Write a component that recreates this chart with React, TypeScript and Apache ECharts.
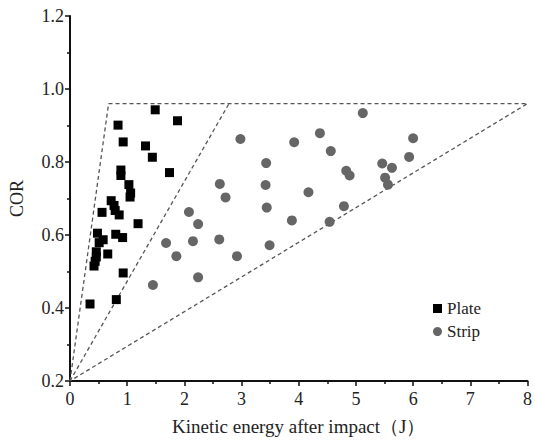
import React, { useEffect, useRef } from "react";
import * as echarts from "echarts";

const plate: [number, number][] = [
  [1.49, 0.943], [1.88, 0.913], [0.84, 0.901], [0.93, 0.855], [1.32, 0.844],
  [1.44, 0.813], [1.74, 0.771], [0.89, 0.778], [0.89, 0.763], [1.03, 0.738],
  [1.06, 0.715], [1.05, 0.704], [0.72, 0.694], [0.77, 0.681], [0.79, 0.667],
  [0.86, 0.655], [0.56, 0.662], [1.19, 0.631], [0.48, 0.605], [0.58, 0.587],
  [0.51, 0.579], [0.80, 0.602], [0.92, 0.593], [0.46, 0.554], [0.46, 0.540],
  [0.66, 0.548], [0.44, 0.528], [0.42, 0.515], [0.93, 0.496], [0.35, 0.411],
  [0.81, 0.423],
];

const strip: [number, number][] = [
  [2.98, 0.863], [3.43, 0.797], [2.62, 0.740], [3.42, 0.737], [2.72, 0.703],
  [3.44, 0.675], [2.08, 0.663], [3.88, 0.640], [2.24, 0.630], [1.68, 0.578],
  [2.15, 0.583], [2.61, 0.588], [3.49, 0.572], [1.86, 0.542], [2.92, 0.542],
  [2.24, 0.484], [1.45, 0.463], [5.12, 0.934], [4.37, 0.879], [3.92, 0.854],
  [4.56, 0.830], [4.83, 0.776], [4.89, 0.763], [5.46, 0.796], [5.63, 0.784],
  [5.51, 0.757], [5.56, 0.738], [4.17, 0.717], [4.79, 0.679], [4.54, 0.636],
  [6.00, 0.865], [5.93, 0.814],
];

// dashed boundary envelopes
const outerBoundary: [number, number][] = [
  [0, 0.2], [0.675, 0.96], [8, 0.96], [0, 0.2],
];
const innerBoundary: [number, number][] = [
  [0, 0.2], [2.78, 0.96],
];

const xName = "Kinetic energy after impact（J）";
const yName = "COR";

export default function App() {
  const ref = useRef<HTMLDivElement>(null);
  useEffect(() => {
    if (!ref.current) return;
    const chart = echarts.init(ref.current, undefined, { renderer: "svg" });
    const font = "Liberation Serif";
    const dashed = {
      color: "#555",
      width: 1.3,
      type: [4, 3] as any,
    };
    chart.setOption({
      animation: false,
      backgroundColor: "#fff",
      textStyle: { fontFamily: font },
      grid: { left: 66, right: 6, top: 16, bottom: 58, containLabel: false },
      legend: {
        data: [
          { name: "Plate", icon: "rect" },
          { name: "Strip", icon: "circle" },
        ],
        orient: "vertical",
        left: 428,
        top: 295,
        itemWidth: 9,
        itemHeight: 9,
        itemGap: 6,
        itemTextGap: 17,
        textStyle: { fontFamily: font, fontSize: 17, color: "#222" },
      },
      xAxis: {
        type: "value",
        min: 0,
        max: 8,
        interval: 1,
        name: xName,
        nameLocation: "middle",
        nameGap: 36,
        nameTextStyle: { fontFamily: font, fontSize: 19, color: "#222" },
        axisLine: { show: true, lineStyle: { color: "#111", width: 2 } },
        axisTick: { show: true, inside: false, length: 5, lineStyle: { color: "#111", width: 1.5 } },
        minorTick: { show: true, splitNumber: 2, length: 3, lineStyle: { color: "#111", width: 1.5 } },
        axisLabel: { fontFamily: font, fontSize: 18, color: "#222", margin: 9 },
        splitLine: { show: false },
      },
      yAxis: {
        type: "value",
        min: 0.2,
        max: 1.2,
        interval: 0.2,
        name: yName,
        nameLocation: "middle",
        nameGap: 44,
        nameRotate: 90,
        nameTextStyle: { fontFamily: font, fontSize: 18, color: "#222" },
        axisLine: { show: true, lineStyle: { color: "#111", width: 2 } },
        axisTick: { show: true, inside: false, length: 5, lineStyle: { color: "#111", width: 1.5 } },
        minorTick: { show: true, splitNumber: 2, length: 3, lineStyle: { color: "#111", width: 1.5 } },
        axisLabel: {
          fontFamily: font,
          fontSize: 18,
          color: "#222",
          margin: 6,
          formatter: (v: number) => v.toFixed(1),
        },
        splitLine: { show: false },
      },
      series: [
        {
          name: "outer",
          type: "line",
          data: outerBoundary,
          symbol: "none",
          silent: true,
          lineStyle: dashed,
          z: 1,
        },
        {
          name: "inner",
          type: "line",
          data: innerBoundary,
          symbol: "none",
          silent: true,
          lineStyle: dashed,
          z: 1,
        },
        {
          name: "Plate",
          type: "scatter",
          data: plate,
          symbol: "rect",
          symbolSize: 9,
          itemStyle: { color: "#000", opacity: 1 },
          z: 3,
        },
        {
          name: "Strip",
          type: "scatter",
          data: strip,
          symbol: "circle",
          symbolSize: 10,
          itemStyle: { color: "#666", opacity: 1 },
          z: 3,
        },
      ],
    });
    return () => chart.dispose();
  }, []);
  return (
    <div
      ref={ref}
      style={{ position: "fixed", left: 0, top: 0, width: 535, height: 441 }}
    />
  );
}
